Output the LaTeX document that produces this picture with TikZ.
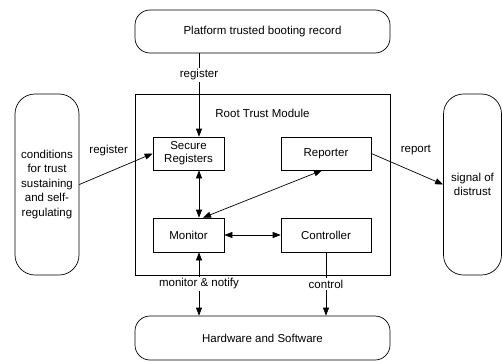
\documentclass[tikz,border=0pt]{standalone}
\usepackage{fontspec}
\setmainfont{Liberation Sans}
\usetikzlibrary{arrows.meta}
\begin{document}
\begin{tikzpicture}[x=1pt,y=-1pt,
  every node/.style={font=\fontsize{11.5}{13.5}\selectfont, inner sep=0pt},
  box/.style={draw, line width=0.7pt, align=center},
  rbox/.style={box, rounded corners=15pt},
  sbox/.style={box},
  lbl/.style={fill=white, inner sep=1.5pt},
  arr/.style={line width=0.7pt, -{Triangle[length=8pt,width=6pt]}},
  darr/.style={line width=0.7pt, {Triangle[length=8pt,width=6pt]}-{Triangle[length=8pt,width=6pt]}},
  ln/.style={line width=0.7pt}]
\useasboundingbox (0,0) rectangle (502,361);
\node[rbox, minimum width=255pt, minimum height=43pt] (top) at (262.5,31.5) {Platform trusted booting record};
\node[sbox, minimum width=255pt, minimum height=181pt] (rtm) at (262.5,184.5) {};
\node (rtmlbl) at (262.5,113) {Root Trust Module};
\node[rbox, minimum width=255pt, minimum height=44pt] (hw) at (262.5,338) {Hardware and Software};
\node[rbox, rounded corners=20pt, minimum width=64pt, minimum height=181pt, font=\fontsize{11.5}{14.5}\selectfont] (left) at (47,184.5) {conditions\\for trust\\sustaining\\and self-\\regulating};
\node[rbox, rounded corners=20pt, minimum width=58pt, minimum height=181pt] (right) at (472.5,184.5) {signal of\\distrust};
\node[sbox, minimum width=71pt, minimum height=33pt, font=\fontsize{11.5}{13}\selectfont] (sec) at (188.5,153.5) {Secure\\Registers};
\node[sbox, minimum width=71pt, minimum height=34pt] (mon) at (188.5,235) {Monitor};
\node[sbox, minimum width=90pt, minimum height=33pt] (rep) at (326,153.5) {Reporter};
\node[sbox, minimum width=90pt, minimum height=34pt] (con) at (326,235) {Controller};

\coordinate (secn) at ([xshift=10.5pt]sec.north);
\coordinate (secs) at ([xshift=10.5pt]sec.south);
\coordinate (monn) at ([xshift=10.5pt]mon.north);
\coordinate (mons) at ([xshift=10.5pt]mon.south);
\coordinate (monr) at ([xshift=14.5pt]mon.north);
\coordinate (reps) at ([xshift=-4pt]rep.south);

\draw[arr] (secn |- top.south) -- node[lbl, pos=0.26] {register} (secn);
\draw[arr] (left.east) -- node[pos=0.4, above=16pt] {register} (sec.west);
\draw[darr] (secs) -- (monn);
\draw[darr] (monr) -- (reps);
\draw[darr] (mon.east) -- (con.west);
\draw[arr] (rep.east) -- node[pos=0.62, above=17pt] {report} (right.west);
\draw[darr] (mons) -- node[lbl, pos=0.5] {monitor \& notify} (mons |- hw.north);
\draw[arr] (con.south) -- node[lbl, pos=0.5] {control} (con.south |- hw.north);
\end{tikzpicture}
\end{document}
